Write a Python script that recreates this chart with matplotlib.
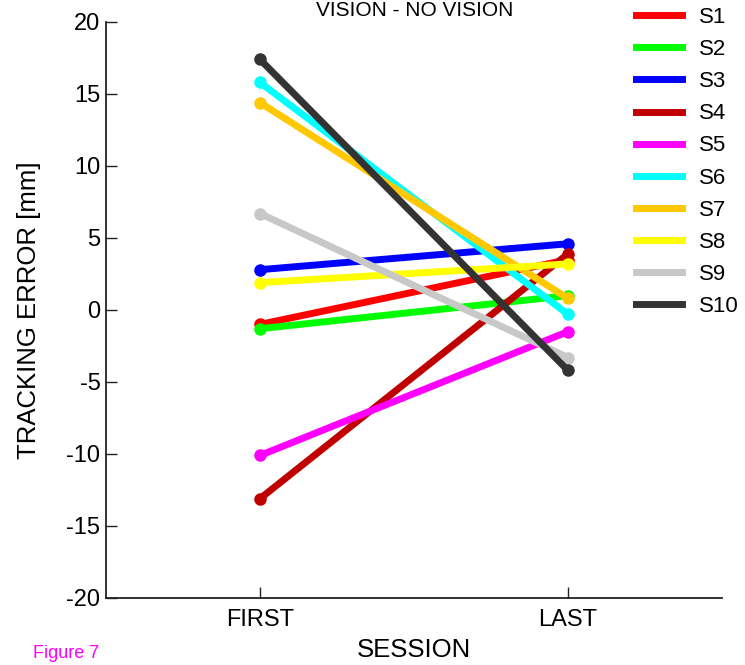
import matplotlib.pyplot as plt
from matplotlib.lines import Line2D

plt.rcParams['font.family'] = ['Liberation Sans', 'DejaVu Sans']
plt.rcParams['axes.unicode_minus'] = False

sessions = ['FIRST', 'LAST']
subjects = ['S1', 'S2', 'S3', 'S4', 'S5', 'S6', 'S7', 'S8', 'S9', 'S10']
first = [-1.0, -1.3, 2.8, -13.1, -10.1, 15.8, 14.4, 1.9, 6.7, 17.4]
last = [3.5, 1.0, 4.6, 3.9, -1.5, -0.3, 0.8, 3.2, -3.3, -4.2]
colors = ['#ff0000', '#00ff00', '#0000ff', '#c00000', '#ff00ff',
          '#00ffff', '#ffc800', '#ffff00', '#c8c8c8', '#333333']

fig = plt.figure(figsize=(7.45, 6.65), dpi=100)
ax = fig.add_axes([106 / 745, 1 - 598 / 665, (722 - 106) / 745, (598 - 22) / 665])

xs = [1, 2]
for f, l, c in zip(first, last, colors):
    ax.plot(xs, [f, l], color=c, lw=5, marker='o', ms=8, solid_capstyle='round')

ax.set_xlim(0.5, 2.5)
ax.set_ylim(-20, 20)
ax.set_xticks(xs)
ax.set_xticklabels(sessions)
ax.set_yticks(range(-20, 21, 5))
ax.tick_params(direction='in', length=8, width=1, labelsize=17, color='#222222')
ax.tick_params(axis='x', pad=8)
ax.tick_params(axis='y', pad=4)
for s in ['top', 'right']:
    ax.spines[s].set_visible(False)
for s in ['left', 'bottom']:
    ax.spines[s].set_linewidth(1.3)
    ax.spines[s].set_color('#222222')

ax.set_ylabel('TRACKING ERROR [mm]', fontsize=18.5)
ax.yaxis.set_label_coords((41 - 106) / 616, 0.5)
ax.set_xlabel('SESSION', fontsize=18.5)
ax.xaxis.set_label_coords(0.5, (598 - 638) / 576)

fig.text(0.556, 1 - 1 / 665, 'VISION - NO VISION', fontsize=15, ha='center', va='top')
fig.text(33 / 745, 1 - 654 / 665, 'Figure 7', fontsize=13, color='#ff00ff', ha='left', va='center')

handles = [Line2D([], [], color=c, lw=5) for c in colors]
fig.legend(handles, subjects, loc='upper left', bbox_to_anchor=(636 / 745, 1 - 7 / 665),
           frameon=False, fontsize=16, handlelength=2.07, handletextpad=0.75,
           labelspacing=0.5, borderpad=0, borderaxespad=0)

fig.savefig('out.png', dpi=100)
